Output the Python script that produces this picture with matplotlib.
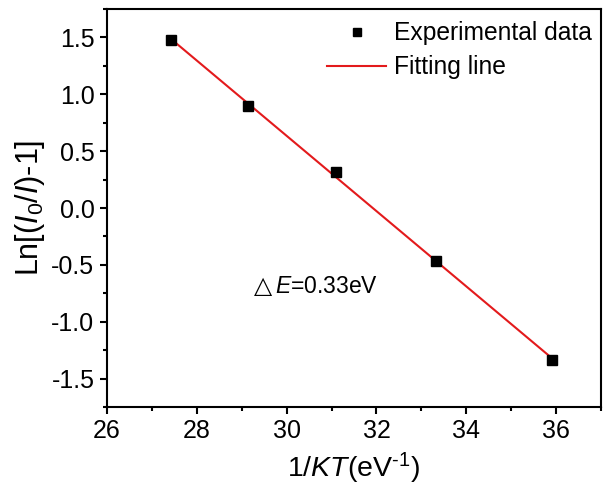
import numpy as np
import matplotlib.pyplot as plt
from matplotlib.ticker import MultipleLocator, AutoMinorLocator

# values
inv_kt = [27.43, 29.13, 31.10, 33.33, 35.92]
ln_val = [1.476, 0.90, 0.32, -0.47, -1.34]

plt.rcParams['font.family'] = ['Liberation Sans', 'DejaVu Sans']
plt.rcParams['mathtext.fontset'] = 'custom'
plt.rcParams['mathtext.rm'] = 'Liberation Sans'
plt.rcParams['mathtext.it'] = 'Liberation Sans:italic'
plt.rcParams['axes.unicode_minus'] = False

fig = plt.figure(figsize=(6.03, 4.88), dpi=100)
ax = fig.add_axes([107 / 603, 1 - 407 / 488, (601 - 107) / 603, (407 - 9) / 488])

# linear fit
slope, icpt = np.polyfit(inv_kt, ln_val, 1)
xf = np.array([min(inv_kt), max(inv_kt)])
ax.plot(xf, slope * xf + icpt, color='#e31a1c', lw=1.5, label='Fitting line', zorder=2)
ax.plot(inv_kt, ln_val, 's', color='black', ms=7, label='Experimental data', zorder=3)

ax.set_xlim(26, 37)
ax.set_ylim(-1.75, 1.75)
ax.xaxis.set_major_locator(MultipleLocator(2))
ax.xaxis.set_minor_locator(AutoMinorLocator(2))
ax.yaxis.set_major_locator(MultipleLocator(0.5))
ax.yaxis.set_minor_locator(AutoMinorLocator(2))
ax.tick_params(which='major', direction='out', length=5, width=1.5, labelsize=18, pad=4)
ax.tick_params(which='minor', direction='out', length=3, width=1.5)
for s in ax.spines.values():
    s.set_linewidth(1.5)

ax.set_xlabel(r'1/$\mathit{KT}$(eV$^{\text{-1}}$)', fontsize=20.5, labelpad=5)
ax.set_ylabel(r'Ln[($\mathit{I}_0$/$\mathit{I}$)-1]', fontsize=22, labelpad=3)

ax.text(29.27, -0.748, '\u25b3', fontsize=17, va='baseline',
        family=['DejaVu Sans'])
ax.text(29.29 + 0.44, -0.748, r'$\mathit{E}$=0.33eV', fontsize=16.5, va='baseline')

h, l = ax.get_legend_handles_labels()
ax.legend(h[::-1], l[::-1], loc='upper right', bbox_to_anchor=(0.987, 0.975),
          frameon=False, fontsize=17.7, handlelength=2.4, handletextpad=0.33,
          labelspacing=0.4, borderaxespad=0.0, borderpad=0.1, markerscale=0.9)

fig.savefig('out.png', dpi=100)
